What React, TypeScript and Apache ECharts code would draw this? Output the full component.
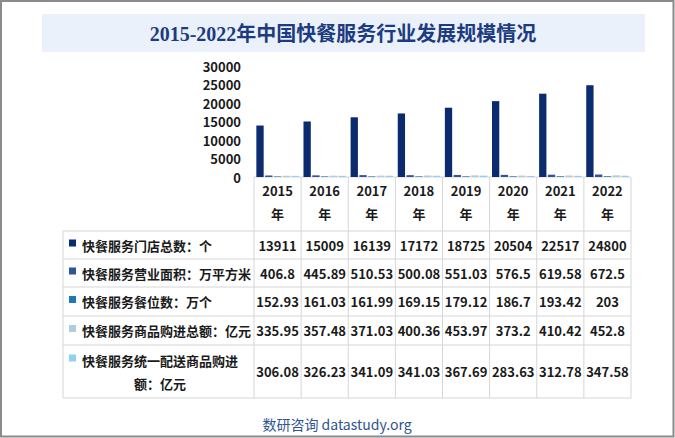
import React, { useEffect, useRef } from "react";
import * as echarts from "echarts";

const years = ["2015", "2016", "2017", "2018", "2019", "2020", "2021", "2022"];
const stores = [13911, 15009, 16139, 17172, 18725, 20504, 22517, 24800];
const area = [406.8, 445.89, 510.53, 500.08, 551.03, 576.5, 619.58, 672.5];
const seats = [152.93, 161.03, 161.99, 169.15, 179.12, 186.7, 193.42, 203];
const purchase = [335.95, 357.48, 371.03, 400.36, 453.97, 373.2, 410.42, 452.8];
const unified = [306.08, 326.23, 341.09, 341.03, 367.69, 283.63, 312.78, 347.58];
const seriesNames = [
  "快餐服务门店总数：个",
  "快餐服务营业面积：万平方米",
  "快餐服务餐位数：万个",
  "快餐服务商品购进总额：亿元",
  "快餐服务统一配送商品购进额：亿元",
];
const rowLabels = [
  "快餐服务门店总数：个",
  "快餐服务营业面积：万平方米",
  "快餐服务餐位数：万个",
  "快餐服务商品购进总额：亿元",
  "快餐服务统一配送商品购进\n额：亿元",
];
const colors = ["#0c2a6e", "#2f559b", "#1d78b5", "#b3cbdb", "#8fd0f3"];
const title = "2015-2022年中国快餐服务行业发展规模情况";
const footer = "数研咨询 datastudy.org";

const FONT = "'Noto Sans CJK SC', 'Noto Sans', sans-serif";

export default function App() {
  const ref = useRef<HTMLDivElement>(null);
  useEffect(() => {
    if (!ref.current) return;
    const chart = echarts.init(ref.current, null, { renderer: "svg" });
    const allSeries = [stores, area, seats, purchase, unified];

    // layout
    const gridLeft = 254;
    const gridRight = 631;
    const axisY = 177;
    const tableLeft = 63;
    const rowEdges = [231, 259, 287, 316, 345, 398];
    const rowCenters = rowEdges.slice(0, -1).map((y, i) => (y + rowEdges[i + 1]) / 2);
    const colW = (gridRight - gridLeft) / years.length;
    const lineColor = "#d6d6d6";

    const graphics: any[] = [];
    graphics.push({
      type: "rect",
      shape: { x: 1, y: 1, width: 672.5, height: 435.5 },
      style: { fill: "none", stroke: "#8a8a8a", lineWidth: 2 },
      silent: true,
    });
    graphics.push({
      type: "rect",
      shape: { x: 42, y: 14, width: 603, height: 38 },
      style: { fill: "#eaf1fb" },
      silent: true,
    });
    graphics.push({
      type: "text",
      style: {
        text: title,
        x: 343,
        y: 34,
        align: "center",
        verticalAlign: "middle",
        fill: "#1d3b80",
        fontSize: 20,
        fontWeight: "bold",
        fontFamily: "'Liberation Serif', 'Noto Sans CJK SC', serif",
      },
    });
    graphics.push({
      type: "line",
      shape: { x1: gridLeft, y1: axisY, x2: gridRight, y2: axisY },
      style: { stroke: lineColor, lineWidth: 1 },
    });
    rowEdges.forEach((y) => {
      graphics.push({
        type: "line",
        shape: { x1: tableLeft, y1: y, x2: gridRight, y2: y },
        style: { stroke: lineColor, lineWidth: 1 },
      });
    });
    graphics.push({
      type: "line",
      shape: { x1: tableLeft, y1: rowEdges[0], x2: tableLeft, y2: rowEdges[rowEdges.length - 1] },
      style: { stroke: lineColor, lineWidth: 1 },
    });
    for (let i = 0; i <= years.length; i++) {
      const x = gridLeft + i * colW;
      graphics.push({
        type: "line",
        shape: { x1: x, y1: axisY, x2: x, y2: rowEdges[rowEdges.length - 1] },
        style: { stroke: lineColor, lineWidth: 1 },
      });
    }
    rowLabels.forEach((lab, i) => {
      const cy = rowCenters[i];
      const multi = lab.includes("\n");
      const lineTop = multi ? cy - 11.5 : cy;
      graphics.push({
        type: "rect",
        shape: { x: 69, y: lineTop - 5.5, width: 7, height: 7 },
        style: { fill: colors[i] },
      });
      graphics.push({
        type: "text",
        style: {
          text: lab,
          x: multi ? 160 : 82,
          y: cy,
          align: multi ? "center" : "left",
          verticalAlign: "middle",
          lineHeight: 23,
          fill: "#1a1a1a",
          fontSize: 13,
          fontWeight: "bold",
          fontFamily: FONT,
        },
      });
    });
    graphics.push({
      type: "text",
      style: {
        text: footer,
        x: 337,
        y: 424,
        align: "center",
        verticalAlign: "middle",
        fill: "#2d5592",
        fontSize: 14,
        fontFamily: FONT,
      },
    });

    const valueAxes = allSeries.map((arr, i) => ({
      type: "category",
      gridIndex: 0,
      position: "bottom",
      offset: rowCenters[i] - axisY,
      data: arr.map((v) => String(v)),
      axisLine: { show: false },
      axisTick: { show: false },
      splitLine: { show: false },
      axisLabel: {
        interval: 0,
        margin: 0,
        verticalAlign: "middle",
        fontSize: 13,
        fontWeight: "bold",
        color: "#1a1a1a",
        fontFamily: FONT,
      },
    }));

    chart.setOption({
      animation: false,
      backgroundColor: "#ffffff",
      grid: { left: gridLeft, right: 675 - gridRight, top: 66, bottom: 438 - axisY, containLabel: false },
      xAxis: [
        {
          type: "category",
          data: years.map((y) => y + "\n年"),
          axisLine: { show: false },
          axisTick: { show: false },
          axisLabel: {
            interval: 0,
            margin: 2,
            lineHeight: 23,
            fontSize: 13,
            fontWeight: "bold",
            color: "#1a1a1a",
            fontFamily: FONT,
          },
        },
        ...valueAxes,
      ],
      yAxis: {
        type: "value",
        min: 0,
        max: 30000,
        interval: 5000,
        axisLine: { show: false },
        axisTick: { show: false },
        splitLine: { show: false },
        axisLabel: {
          margin: 13,
          fontSize: 13,
          fontWeight: "bold",
          color: "#1a1a1a",
          fontFamily: FONT,
          formatter: (v: number) => String(v),
        },
      },
      series: allSeries.map((arr, i) => ({
        type: "bar",
        name: seriesNames[i],
        data: arr,
        xAxisIndex: 0,
        barCategoryGap: "10%",
        barGap: "20%",
        itemStyle: { color: colors[i] },
      })),
      graphic: graphics,
    });
    return () => chart.dispose();
  }, []);
  return (
    <div
      ref={ref}
      style={{ position: "fixed", left: 0, top: 0, width: 675, height: 438 }}
    />
  );
}
